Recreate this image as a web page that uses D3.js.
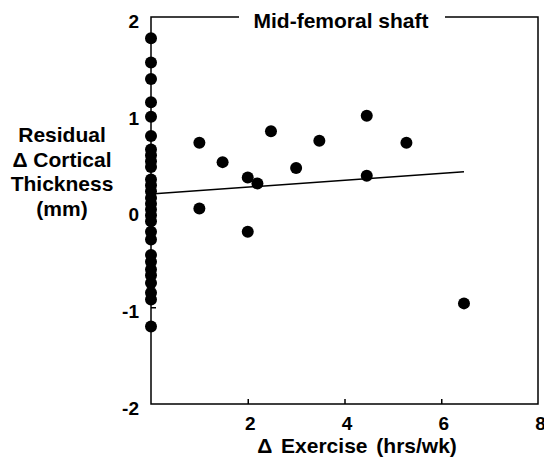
<!DOCTYPE html>
<html><head><meta charset="utf-8">
<script src="https://cdn.jsdelivr.net/npm/d3@7"></script>
<style>body{margin:0;background:#fff}text{font-family:"Liberation Sans",Arial,sans-serif;font-weight:bold;fill:#000}</style>
</head><body><svg id="c" width="544" height="458"></svg>
<script>
// Points at zero exercise change (residual change in cortical thickness, mm)
const zeroExerciseY = [1.78,1.53,1.36,1.12,0.97,0.77,0.63,0.57,0.51,0.45,0.32,0.26,0.20,0.13,0.07,0.01,-0.05,-0.11,-0.22,-0.30,-0.46,-0.53,-0.61,-0.67,-0.75,-0.85,-0.92,-1.20];
// Points with positive exercise change
const exerciseX = [1.0,1.48,2.48,3.48,4.46,2.0,2.2,3.0,4.46,1.0,2.0,5.28,6.47];
const exerciseY = [0.70,0.50,0.82,0.72,0.98,0.34,0.28,0.44,0.36,0.02,-0.22,0.70,-0.96];
// Regression line endpoints
const fitX = [0,6.47];
const fitY = [0.17,0.40];
const xTicks = [2,4,6,8];
const yTicks = [2,1,0,-1,-2];
const title = "Mid-femoral shaft";
const yLabelLines = ["Residual","\u0394 Cortical","Thickness","(mm)"];
const xLabel = "\u0394 Exercise (hrs/wk)";

const svg = d3.select("#c");
const L=151,T=17,R=538,B=404;
const x = d3.scaleLinear().domain([0,8]).range([L,R]);
const y = d3.scaleLinear().domain([-2,2]).range([B,T]);

const pts = zeroExerciseY.map(v=>[0,v]).concat(exerciseX.map((v,i)=>[v,exerciseY[i]]));

// regression line
svg.append("line").attr("x1",x(fitX[0])).attr("y1",y(fitY[0])).attr("x2",x(fitX[1])).attr("y2",y(fitY[1]))
  .attr("stroke","#000").attr("stroke-width",1.5);

// frame
const g = svg.append("g").attr("stroke","#000").attr("stroke-width",1.5).attr("fill","none");
g.append("path").attr("d",`M239,${T}H${L}V${B}H${R}V${T}H445`);

// axes ticks inward
const yAx = svg.append("g").attr("transform",`translate(${L},0)`)
  .call(d3.axisLeft(y).tickValues(yTicks).tickSizeInner(-5).tickSizeOuter(0).tickPadding(12).tickFormat(d=>d<0?"-"+Math.abs(d):d));
yAx.select(".domain").remove();
yAx.selectAll(".tick line").attr("stroke-width",1.5).filter(d=>Math.abs(d)==2).remove();
yAx.selectAll("text").attr("font-size",19).attr("font-family",null).attr("dy","0.55em").style("font-weight","bold");

const xAx = svg.append("g").attr("transform",`translate(0,${B})`)
  .call(d3.axisBottom(x).tickValues(xTicks).tickSizeInner(-5).tickSizeOuter(0).tickPadding(13));
xAx.select(".domain").remove();
xAx.selectAll(".tick line").attr("stroke-width",1.5).filter(d=>d==8).remove();
xAx.selectAll("text").attr("font-size",19).attr("font-family",null).attr("dx",2).style("font-weight","bold");

// points
svg.append("g").selectAll("circle").data(pts).join("circle")
  .attr("cx",d=>x(d[0])).attr("cy",d=>y(d[1])).attr("r",6).attr("fill","#000");

// title
svg.append("text").attr("x",341).attr("y",28).attr("text-anchor","middle").attr("font-size",21).text(title);

// y label
svg.append("text").attr("text-anchor","middle").attr("font-size",21)
  .selectAll("tspan").data(yLabelLines).join("tspan")
  .attr("x",62).attr("y",(d,i)=>142+i*24.5).text(d=>d);

// x label
svg.append("text").attr("x",357).attr("y",453).attr("text-anchor","middle").attr("font-size",21).attr("word-spacing",3).text(xLabel);
</script></body></html>
